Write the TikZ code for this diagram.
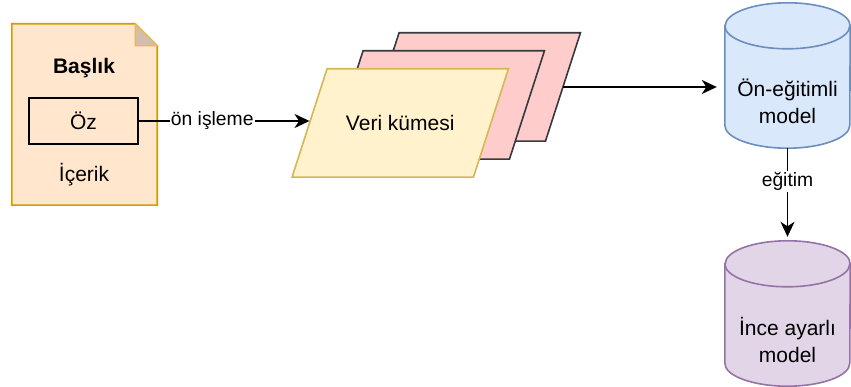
\documentclass[tikz,border=0pt]{standalone}
\usepackage{fontspec}
\setmainfont{Liberation Sans}
\usetikzlibrary{calc,arrows.meta}

\definecolor{docfill}{HTML}{FFE6CC}
\definecolor{docline}{HTML}{D79B00}
\definecolor{setfill}{HTML}{FFF2CC}
\definecolor{setline}{HTML}{D6B656}
\definecolor{pinkfill}{HTML}{FFCCCC}
\definecolor{pinkline}{HTML}{36393D}
\definecolor{prefill}{HTML}{DAE8FC}
\definecolor{preline}{HTML}{6C8EBF}
\definecolor{ftfill}{HTML}{E1D5E7}
\definecolor{ftline}{HTML}{9673A6}

\tikzset{
    every node/.style={font=\fontsize{21}{27}\selectfont},
    pgram/.style={minimum width=216pt, minimum height=108pt, inner sep=0pt},
    db/.style={minimum width=125pt, minimum height=145pt, inner sep=0pt},
    conn/.style={line width=1.6pt, -{Stealth[length=15pt,width=14pt,inset=4.5pt]}},
    edgelabel/.style={fill=white, inner sep=1pt, font=\fontsize{19.3}{23}\selectfont},
}

\begin{document}
\begin{tikzpicture}[x=1pt, y=-1pt]
    \useasboundingbox (0,0) rectangle (851,387);

    % document with folded corner
    \node[minimum width=145pt, minimum height=181pt, inner sep=0pt] (doc) at (84.5,114.5) {};
    \draw[line width=1.6pt, draw=docline, fill=docfill]
        (doc.north west) -- ([xshift=-22pt]doc.north east)
        -- ([yshift=-22pt]doc.north east) -- (doc.south east)
        -- (doc.south west) -- cycle;
    \draw[line width=1.2pt, draw=docline!60!docfill, fill=docfill!80!black!90]
        ([xshift=-22pt]doc.north east) -- ([xshift=-22pt,yshift=-22pt]doc.north east)
        -- ([yshift=-22pt]doc.north east) -- cycle;
    \node[font=\bfseries\fontsize{21}{27}\selectfont] (title) at (84,68) {Başlık};
    \node[draw, line width=1.6pt, minimum width=109pt, minimum height=46pt, inner sep=0pt] (oz) at (83.5,121) {Öz};
    \node (body) at (84,175) {İçerik};

    % stacked data sets, slanted by 35pt
    \node[pgram] (back) at (472.25,87) {};
    \node[pgram] (mid) at (436.25,105) {};
    \node[pgram] (front) at (400.25,123) {};
    \foreach \n/\f/\d in {back/pinkfill/pinkline, mid/pinkfill/pinkline, front/setfill/setline}
        \draw[line width=1.6pt, draw=\d, fill=\f]
            ([xshift=35pt]\n.north west) -- (\n.north east)
            -- ([xshift=-35pt]\n.south east) -- (\n.south west) -- cycle;
    \node (settext) at (front) {Veri kümesi};

    % models as cylinders
    \node[db] (pre) at (787.5,75.5) {};
    \node[db] (ft) at (787.5,313.5) {};
    \foreach \n/\f/\d in {pre/prefill/preline, ft/ftfill/ftline} {
        \draw[line width=1.6pt, draw=\d, fill=\f]
            ([yshift=-23pt]\n.north west) -- ([yshift=23pt]\n.south west)
            arc (180:360:62.5pt and 23pt) -- ([yshift=-23pt]\n.north east)
            arc (0:180:62.5pt and 23pt) -- cycle;
        \draw[line width=1.6pt, draw=\d]
            ([yshift=-23pt]\n.north west) arc (180:360:62.5pt and 23pt);
    }
    \node[align=center] (pretext) at ([yshift=-26pt]pre.center) {Ön-eğitimli\\model};
    \node[align=center] (fttext) at ([yshift=-26pt]ft.center) {İnce ayarlı\\model};

    % connectors
    \draw[conn] (oz.east) -- node[edgelabel, pos=0.43] {ön işleme} (oz.east -| {$(front.west)+(17.5pt,0)$});
    \draw[conn, shorten >=8pt] ($(back.east)+(-17.5pt,0)$) -- (back.east -| pre.west);
    \draw[conn, shorten >=4pt] (pre.south) -- node[edgelabel, pos=0.36] {eğitim} (ft.north);
\end{tikzpicture}
\end{document}
